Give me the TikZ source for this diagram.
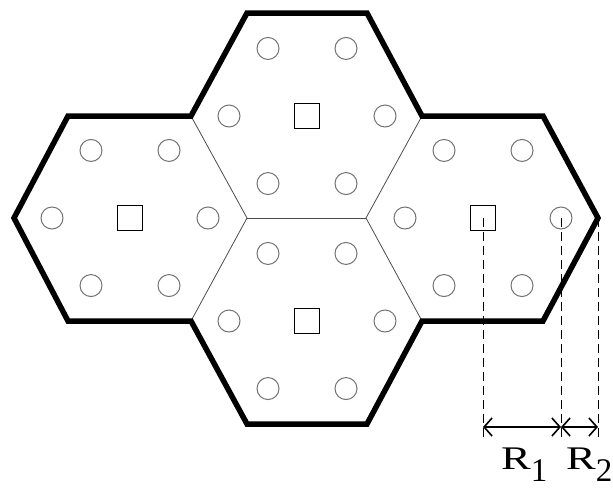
\documentclass[tikz,border=0pt]{standalone}
\usepackage{fontspec}
\usepackage{graphicx}
\setmainfont{Liberation Serif}
\usetikzlibrary{arrows.meta}
\begin{document}
\begin{tikzpicture}[x=1pt,y=-1pt,
  usercircle/.style={circle,draw=black!55,line width=1pt,minimum size=22pt,inner sep=0pt},
  basestation/.style={rectangle,draw=black,line width=1.3pt,minimum size=25pt,inner sep=0pt},
  outeredge/.style={line width=5.5pt,line join=miter},
  inneredge/.style={line width=0.8pt,draw=black!70},
  guide/.style={line width=1pt,dash pattern=on 9pt off 5pt},
  dimarrow/.style={line width=1.6pt,{Straight Barb[length=8pt,width=18pt]}-{Straight Barb[length=8pt,width=18pt]}},
  dimlabel/.style={font=\fontsize{33}{38}\selectfont,inner sep=0pt}]
\useasboundingbox (0,0) rectangle (613,488);

% hexagon vertices
\coordinate (v1) at (14,218);
\coordinate (v2) at (68,116);
\coordinate (v3) at (191,116);
\coordinate (v4) at (247,13);
\coordinate (v5) at (367,13);
\coordinate (v6) at (422,116);
\coordinate (v7) at (543,116);
\coordinate (v8) at (598,218);
\coordinate (v9) at (543,321);
\coordinate (v10) at (422,321);
\coordinate (v11) at (367,424);
\coordinate (v12) at (247,424);
\coordinate (v13) at (191,321);
\coordinate (v14) at (68,321);
\coordinate (c1) at (247,218);
\coordinate (c2) at (366,218);

% hexagon centres
\coordinate (L) at (130,218);
\coordinate (T) at (307,116);
\coordinate (B) at (307,321);
\coordinate (R) at (483,218);

% inner cell borders
\draw[inneredge] (v3) -- (c1) -- (v13);
\draw[inneredge] (c1) -- (c2);
\draw[inneredge] (v6) -- (c2) -- (v10);

% outer border
\draw[outeredge] (v1) -- (v2) -- (v3) -- (v4) -- (v5) -- (v6) -- (v7) -- (v8)
  -- (v9) -- (v10) -- (v11) -- (v12) -- (v13) -- (v14) -- cycle;

% base stations and users
\foreach \h in {L,T,B,R}{
  \node[basestation] (sq-\h) at (\h) {};
  \foreach \a in {0,60,120,180,240,300}{
    \node[usercircle] (u-\h-\a) at ([shift={(\a:78)}]\h) {};
  }
}

% guides
\coordinate (g1) at (483,440);
\coordinate (g2) at (561,440);
\coordinate (g3) at (598,440);
\draw[guide] (sq-R.center) -- (g1);
\draw[guide] (u-R-0.center) -- (g2);
\draw[guide] (v8) -- (g3);

% dimension arrows
\coordinate (a1) at (483,427);
\coordinate (a2) at (561,427);
\coordinate (a3) at (598,427);
\draw[dimarrow] (a1) -- (a2);
\draw[dimarrow] (a2) -- (a3);

% labels
\node[dimlabel,anchor=base west] (r1) at (501,469) {\scalebox{1.35}[1]{R}\raisebox{-12pt}{1}};
\node[dimlabel,anchor=base west] (r2) at (566,469) {\scalebox{1.35}[1]{R}\raisebox{-12pt}{2}};
\end{tikzpicture}
\end{document}
